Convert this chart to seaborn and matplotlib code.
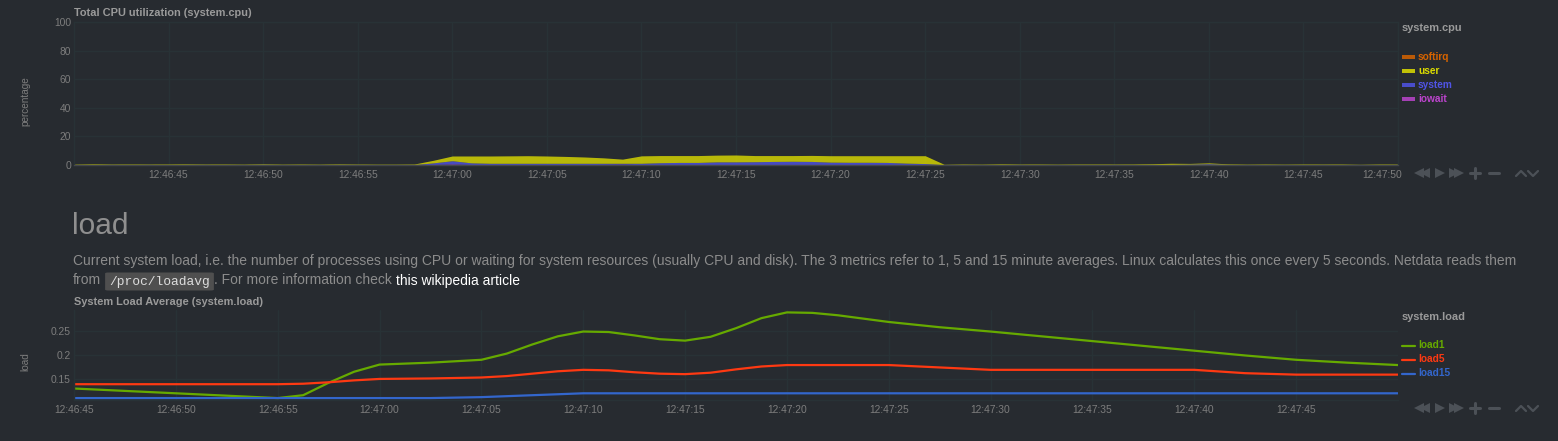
import numpy as np
import pandas as pd
import matplotlib
matplotlib.use("Agg")
import matplotlib.pyplot as plt
import matplotlib.transforms as mtransforms
import seaborn as sns
from matplotlib.lines import Line2D
from matplotlib.patches import Rectangle, FancyBboxPatch

# ---------------- data ----------------
# CPU chart: one sample per second, seconds after 12:46:40
cpu_seconds = list(range(0, 71))
cpu_user = [0.3, 0.5, 0.3, 0.4, 0.3, 0.5, 0.4, 0.3, 0.5, 0.3, 0.4, 0.3, 0.5, 0.3, 0.4, 0.3, 0.4, 0.3,
            0.4, 1.8, 3.3, 4.8, 5.1, 5.2, 5.3, 5.1, 4.8, 4.4, 3.8, 2.9,
            5.2, 5.0, 4.8, 4.8, 4.7, 4.8, 4.3, 4.1, 4.0, 4.2, 4.5, 4.6, 4.6, 4.7, 5.2, 5.5,
            0.3, 0.4, 0.3, 0.5, 0.3, 0.4, 0.3, 0.4, 0.5, 0.3, 0.4, 0.5, 0.8, 0.5, 0.6, 0.4,
            0.3, 0.4, 0.3, 0.5, 0.3, 0.4, 0.3, 0.4, 0.3]
cpu_system = [0.3, 0.2, 0.4, 0.3, 0.3, 0.2, 0.4, 0.3, 0.2, 0.3, 0.4, 0.3, 0.2, 0.3, 0.3, 0.4, 0.2, 0.3,
              0.3, 1.2, 2.2, 1.2, 1.0, 1.0, 1.0, 1.0, 1.0, 0.9, 0.8, 0.6,
              1.0, 1.4, 1.6, 1.6, 2.0, 2.0, 2.1, 2.3, 2.4, 2.3, 1.8, 1.7, 1.7, 1.6, 1.1, 0.9,
              0.2, 0.3, 0.2, 0.3, 0.4, 0.2, 0.3, 0.3, 0.2, 0.3, 0.3, 0.4, 0.3, 0.6, 0.8, 0.4,
              0.3, 0.2, 0.3, 0.2, 0.3, 0.3, 0.2, 0.3, 0.3]
cpu_iowait = [0.0, 0.1, 0.0, 0.0, 0.1, 0.0, 0.0, 0.1, 0.0, 0.0, 0.1, 0.0, 0.0, 0.0, 0.1, 0.0, 0.0, 0.0,
              0.0, 0.3, 0.8, 0.3, 0.2, 0.2, 0.2, 0.2, 0.2, 0.3, 0.4, 0.6,
              0.2, 0.2, 0.2, 0.2, 0.2, 0.2, 0.2, 0.2, 0.2, 0.2, 0.2, 0.2, 0.2, 0.2, 0.2, 0.1,
              0.0, 0.0, 0.1, 0.0, 0.0, 0.1, 0.0, 0.0, 0.0, 0.1, 0.0, 0.0, 0.1, 0.0, 0.1, 0.0,
              0.0, 0.1, 0.0, 0.0, 0.1, 0.0, 0.0, 0.0, 0.1]
cpu_softirq = [0.0] * 71
cpu_dims = ["softirq", "user", "system", "iowait"]
cpu_tick_seconds = [5, 10, 15, 20, 25, 30, 35, 40, 45, 50, 55, 60, 65, 70]
cpu_tick_labels = ["12:46:45", "12:46:50", "12:46:55", "12:47:00", "12:47:05", "12:47:10", "12:47:15",
                   "12:47:20", "12:47:25", "12:47:30", "12:47:35", "12:47:40", "12:47:45", "12:47:50"]
cpu_yticks = [0, 20, 40, 60, 80, 100]

# Load chart: seconds after 12:46:45
load_seconds = [0, 2.5, 5, 7.5, 10, 11.25, 12.5, 13.75, 15, 17.5, 20, 21.25, 22.5, 23.75, 25, 26.25,
                27.5, 28.75, 30, 31.25, 32.5, 33.75, 35, 36.25, 37.5, 40, 42.5, 45, 47.5, 50, 52.5,
                55, 57.5, 60, 62.5, 65]
load1 = [0.130, 0.125, 0.120, 0.115, 0.110, 0.116, 0.142, 0.165, 0.180, 0.184, 0.190, 0.203, 0.222,
         0.239, 0.249, 0.248, 0.241, 0.233, 0.230, 0.238, 0.256, 0.277, 0.289, 0.288, 0.283, 0.269,
         0.258, 0.249, 0.239, 0.229, 0.219, 0.209, 0.199, 0.190, 0.184, 0.179]
load5 = [0.139, 0.139, 0.139, 0.139, 0.139, 0.140, 0.143, 0.147, 0.150, 0.151, 0.153, 0.156, 0.161,
         0.166, 0.169, 0.168, 0.164, 0.161, 0.160, 0.163, 0.170, 0.176, 0.179, 0.179, 0.179, 0.179,
         0.174, 0.169, 0.169, 0.169, 0.169, 0.169, 0.162, 0.159, 0.159, 0.159]
load15 = [0.110, 0.110, 0.110, 0.110, 0.110, 0.110, 0.110, 0.110, 0.110, 0.110, 0.112, 0.114, 0.116,
          0.118, 0.120, 0.120, 0.120, 0.120, 0.120, 0.120, 0.120, 0.120, 0.120, 0.120, 0.120, 0.120,
          0.120, 0.120, 0.120, 0.120, 0.120, 0.120, 0.120, 0.120, 0.120, 0.120]
load_dims = ["load1", "load5", "load15"]
load_tick_seconds = [0, 5, 10, 15, 20, 25, 30, 35, 40, 45, 50, 55, 60]
load_tick_labels = ["12:46:45", "12:46:50", "12:46:55", "12:47:00", "12:47:05", "12:47:10", "12:47:15",
                    "12:47:20", "12:47:25", "12:47:30", "12:47:35", "12:47:40", "12:47:45"]
load_yticks = [0.15, 0.2, 0.25]
load_ytick_labels = ["0.15", "0.2", "0.25"]

# ---------------- style ----------------
W, H = 1558, 441
BG = "#272b30"
GRID = "#283236"
TICK = "#7d7d7d"
TITLE = "#9a9a9a"
CTRL = "#4c5157"
cpu_colors = {"softirq": "#D66300", "user": "#DDDD00", "system": "#5054e6", "iowait": "#BB44CC"}
load_colors = {"load1": "#66AA00", "load5": "#FE3912", "load15": "#3366CC"}

sns.set_theme(style="dark", rc={"axes.facecolor": BG, "figure.facecolor": BG,
                                "savefig.facecolor": BG, "axes.edgecolor": GRID,
                                "grid.color": GRID})
plt.rcParams["font.family"] = ["Liberation Sans", "DejaVu Sans"]

fig = plt.figure(figsize=(W / 100, H / 100), dpi=100)


def fx(px):
    return px / W


def fy(py):
    return 1 - py / H


ax1 = fig.add_axes([fx(74), fy(165), (1398 - 74) / W, (165 - 22) / H])
ax2 = fig.add_axes([fx(74), fy(400), (1398 - 74) / W, (400 - 310) / H])

# ---- CPU stacked area ----
cpu_df = pd.DataFrame({"second": cpu_seconds, "softirq": cpu_softirq, "user": cpu_user,
                       "system": cpu_system, "iowait": cpu_iowait})
stack_order = ["iowait", "system", "user", "softirq"]
ax1.stackplot(cpu_df["second"], *[cpu_df[d] for d in stack_order],
              colors=[cpu_colors[d] for d in stack_order], alpha=0.8, linewidth=0)
ax1.set_xlim(0, 70)
ax1.set_ylim(0, 100)
ax1.set_xticks(cpu_tick_seconds)
ax1.set_xticklabels(cpu_tick_labels)
ax1.set_yticks(cpu_yticks)
ax1.set_yticklabels([str(v) for v in cpu_yticks])

# ---- Load lines ----
load_df = pd.DataFrame({"second": load_seconds, "load1": load1, "load5": load5, "load15": load15})
load_long = load_df.melt(id_vars="second", var_name="dimension", value_name="load")
sns.lineplot(data=load_long, x="second", y="load", hue="dimension", hue_order=load_dims,
             palette=load_colors, linewidth=1.6, legend=False, ax=ax2)
ax2.set_xlim(0, 65)
ax2.set_ylim(0.106, 0.294)
ax2.set_xticks(load_tick_seconds)
ax2.set_xticklabels(load_tick_labels)
ax2.set_yticks(load_yticks)
ax2.set_yticklabels(load_ytick_labels)

for ax in (ax1, ax2):
    ax.set_xlabel("")
    ax.set_ylabel("")
    ax.grid(True, color=GRID, linewidth=1)
    ax.set_axisbelow(True)
    ax.tick_params(length=0, colors=TICK, labelsize=7.4)
    ax.tick_params(axis="x", pad=3.4)
    ax.tick_params(axis="y", pad=2.2)
    for s in ax.spines.values():
        s.set_color(GRID)
        s.set_linewidth(1)
ax1.spines["bottom"].set_color("#44474d")
ax2.spines["top"].set_visible(False)
ax2.spines["right"].set_visible(False)

# last CPU tick label is kept inside the chart, like the reference
last_lbl = ax1.get_xticklabels()[-1]
last_lbl.set_horizontalalignment("right")
last_lbl.set_transform(last_lbl.get_transform() +
                       mtransforms.ScaledTranslation(4 / 100, 0, fig.dpi_scale_trans))

# ---- titles / y labels ----
fig.text(fx(74), fy(13), "Total CPU utilization (system.cpu)", color=TITLE, fontsize=7.9,
         fontweight="bold", ha="left", va="center")
fig.text(fx(74), fy(302), "System Load Average (system.load)", color=TITLE, fontsize=7.9,
         fontweight="bold", ha="left", va="center")
fig.text(fx(25), fy(101), "percentage", color=TICK, fontsize=7.2, rotation=90, ha="center", va="center")
fig.text(fx(25), fy(362), "load", color=TICK, fontsize=7.2, rotation=90, ha="center", va="center")

# ---- legends ----
fig.text(fx(1402), fy(28), "system.cpu", color=TITLE, fontsize=7.9, fontweight="bold",
         ha="left", va="center")
for i, d in enumerate(cpu_dims):
    yc = 57 + 14 * i
    fig.add_artist(Rectangle((fx(1402), fy(yc + 2)), 13 / W, 4 / H, transform=fig.transFigure,
                             facecolor=cpu_colors[d], edgecolor="none", alpha=0.85))
    fig.text(fx(1418), fy(yc - 0.5), d, color=cpu_colors[d], fontsize=7.3, fontweight="bold",
             ha="left", va="center")

fig.text(fx(1402), fy(317), "system.load", color=TITLE, fontsize=7.9, fontweight="bold",
         ha="left", va="center")
for i, d in enumerate(load_dims):
    yc = 345.5 + 14 * i
    fig.add_artist(Line2D([fx(1402), fx(1415)], [fy(yc), fy(yc)], transform=fig.transFigure,
                          color=load_colors[d], linewidth=1.6))
    fig.text(fx(1418), fy(yc - 0.5), d, color=load_colors[d], fontsize=7.3, fontweight="bold",
             ha="left", va="center")


# ---- chart controls ----
def controls(yc):
    for xc in (1419.0, 1424.5):
        fig.add_artist(Line2D([fx(xc)], [fy(yc)], transform=fig.transFigure, marker="<",
                              markersize=6.5, color=CTRL, markeredgewidth=0, linestyle="none"))
    fig.add_artist(Line2D([fx(1439.5)], [fy(yc)], transform=fig.transFigure, marker=">",
                          markersize=7.5, color=CTRL, markeredgewidth=0, linestyle="none"))
    for xc in (1453.5, 1459.0):
        fig.add_artist(Line2D([fx(xc)], [fy(yc)], transform=fig.transFigure, marker=">",
                              markersize=6.5, color=CTRL, markeredgewidth=0, linestyle="none"))
    fig.add_artist(Line2D([fx(1469.5), fx(1479.5)], [fy(yc), fy(yc)], transform=fig.transFigure,
                          color=CTRL, linewidth=2.2))
    fig.add_artist(Line2D([fx(1474.5), fx(1474.5)], [fy(yc - 5), fy(yc + 5)], transform=fig.transFigure,
                          color=CTRL, linewidth=2.2))
    fig.add_artist(Line2D([fx(1488.5), fx(1498.5)], [fy(yc), fy(yc)], transform=fig.transFigure,
                          color=CTRL, linewidth=2.2))
    fig.add_artist(Line2D([fx(1516), fx(1521), fx(1526)], [fy(yc + 3), fy(yc - 2), fy(yc + 3)],
                          transform=fig.transFigure, color=CTRL, linewidth=1.6))
    fig.add_artist(Line2D([fx(1528), fx(1533), fx(1538)], [fy(yc - 2), fy(yc + 3), fy(yc - 2)],
                          transform=fig.transFigure, color=CTRL, linewidth=1.6))


controls(173)
controls(408)

# ---- section heading and description ----
PARA = "#8c8c8c"
fig.text(fx(72), fy(225.5), "load", color="#8f8f8f", fontsize=21.5, ha="left", va="center")

renderer = fig.canvas.get_renderer()
line1 = ("Current system load, i.e. the number of processes using CPU or waiting for system resources "
         "(usually CPU and disk). The 3 metrics refer to 1, 5 and 15 minute averages. Linux calculates "
         "this once every 5 seconds. Netdata reads them")
t1 = fig.text(fx(73), fy(260.5), line1, color=PARA, fontsize=10.3, ha="left", va="center")
w1 = t1.get_window_extent(renderer).width
fs = 10.3 * (1522 - 73) / w1
t1.set_fontsize(fs)

yl2 = 280.5
x = 73
ta = fig.text(fx(x), fy(yl2), "from", color=PARA, fontsize=fs, ha="left", va="center")
x += ta.get_window_extent(renderer).width + 4
tc = fig.text(fx(x + 4), fy(yl2 + 1), "/proc/loadavg", color="#dddddd", fontsize=fs * 0.93,
              family=["Liberation Mono", "DejaVu Sans Mono"], ha="left", va="center", zorder=3)
wc = tc.get_window_extent(renderer).width
fig.add_artist(FancyBboxPatch((fx(x), fy(290.5)), (wc + 8) / W, 18 / H, transform=fig.transFigure,
                              boxstyle="round,pad=0,rounding_size=0.002", facecolor="#4f4f4f",
                              edgecolor="none", zorder=2))
x += wc + 8
tb = fig.text(fx(x), fy(yl2), ". For more information check ", color=PARA, fontsize=fs,
              ha="left", va="center")
x += tb.get_window_extent(renderer).width
fig.text(fx(x), fy(yl2), "this wikipedia article", color="#ffffff", fontsize=fs, ha="left", va="center")

fig.savefig("out.png", dpi=100, facecolor=BG)
